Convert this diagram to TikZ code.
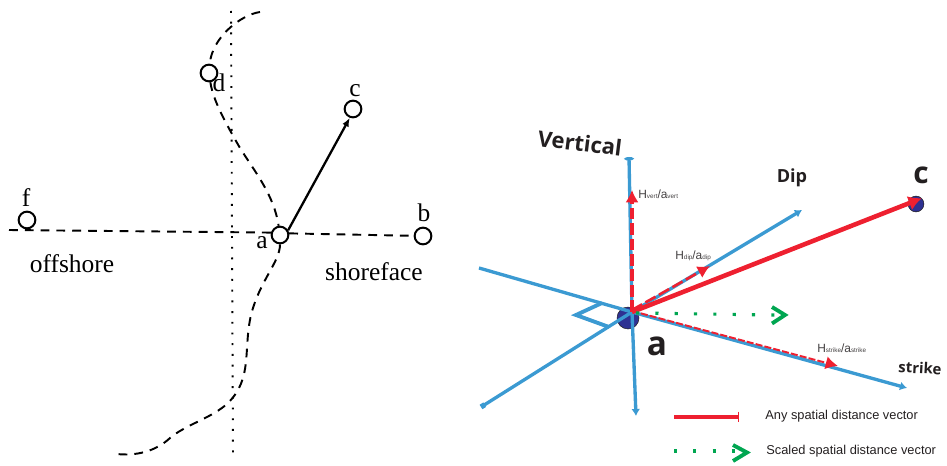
\documentclass[tikz,border=0pt]{standalone}
\usepackage{fontspec}
\setmainfont{Liberation Serif}
\newfontfamily\labelfont{Liberation Sans}
\newfontfamily\axisfont{Open Sans}
\usepackage{tikz}
\usetikzlibrary{arrows.meta,positioning,calc}
\definecolor{axisblue}{HTML}{3B9AD2}
\definecolor{vecred}{HTML}{EE2030}
\definecolor{scalegreen}{HTML}{00A651}
\definecolor{balldark}{HTML}{2E3192}
\definecolor{ink}{HTML}{231F20}
\tikzset{>=Latex,
well/.style={circle,draw=black,line width=1.15pt,fill=white,minimum size=9.5pt,inner sep=0pt},
serif/.style={font=\fontsize{14.5}{16}\selectfont,text=black,inner sep=0pt},
trace/.style={black,line width=1.1pt,dash pattern=on 5pt off 4pt},
axis/.style={draw=axisblue,line width=1.9pt,-{Latex[length=4pt,width=5pt]}},
vec/.style={draw=vecred,line width=2.6pt,-{Latex[length=7.5pt,width=8.5pt]}},
part/.style={draw=vecred,line width=1.9pt,dash pattern=on 6.6pt off 2.2pt,-{Latex[length=7pt,width=7.5pt]}},
scaled/.style={draw=scalegreen,line width=1.8pt,dash pattern=on 1.8pt off 9.2pt},
chevron/.style={draw=scalegreen,line width=2.2pt},
ball/.style={circle,fill=balldark,draw=ink,line width=.3pt,inner sep=0pt},
comp/.style={font=\labelfont\fontsize{6.8}{8}\selectfont,text=ink!85,inner sep=0pt},
axlabel/.style={font=\axisfont\bfseries\fontsize{8.5}{10}\selectfont,text=ink,inner sep=0pt},
legendtext/.style={font=\labelfont\fontsize{7.3}{9}\selectfont,text=ink,inner sep=0pt,anchor=west}}
\newcommand{\sm}[1]{{\fontsize{3.6}{4}\selectfont #1}}
\begin{document}
\begin{tikzpicture}[x=.02cm,y=-.02cm]
\useasboundingbox (0,0) rectangle (947,466);
\draw[black,line width=1.1pt,dash pattern=on 1.1pt off 5pt] (231,11) -- (233,453);
\node[well] (a) at (280,235) {};
\node[well] (b) at (423,236) {};
\node[well] (c) at (353,109) {};
\node[well] (d) at (209,73) {};
\node[well] (f) at (27,220) {};
\draw[trace] (9,230) -- (a.165);
\draw[trace] (a.10) -- (b);
\draw[trace] (260,12) .. controls (240,15) and (212,38) .. (d);
\draw[trace] (d) .. controls (213,100) and (225,122) .. (240,148) .. controls (255,172) and (274,195) .. (a);
\draw[trace] (a) .. controls (280,262) and (260,280) .. (251,315) .. controls (243,350) and (253,378) .. (228,403) .. controls (212,418) and (185,425) .. (170,438) .. controls (155,452) and (135,456) .. (117,454);
\draw[line width=1.3pt,-{Latex[length=5pt,width=4pt]}] (a.30) -- (c.250);
\node[serif] (alabel) at (262,243) {a};
\node[serif] (blabel) at (424,213) {b};
\node[serif] (clabel) at (355,91) {c};
\node[serif] (dlabel) at (219,83) {d};
\node[serif] (flabel) at (26,198) {f};
\node[serif] (off) at (72,264) {offshore};
\node[serif] (shore) at (374,272) {shoreface};
\coordinate (ao) at (632,312);
\node[ball,minimum size=12.5pt] (aball) at (628,318) {};
\node[ball,minimum size=9pt] (cball) at (916,204) {};
\coordinate (vtop) at (629,157);
\coordinate (vbot) at (636,416);
\coordinate (dtop) at (802,210);
\coordinate (dbot) at (481,407);
\coordinate (stop) at (907,388);
\coordinate (sbot) at (479,268);
\draw[axis,-{Ellipse[open,length=2pt,width=5pt]}] (ao) -- (vtop);
\draw[axis] (ao) -- (vbot);
\draw[axis] (ao) -- (dtop);
\draw[axis,-{Square[open,length=2.5pt,width=3pt]}] (ao) -- (dbot);
\draw[axis] (ao) -- (stop);
\draw[axis,-] (ao) -- (sbot);
\draw[axis,-,line width=2.2pt] (602,303) -- (576,315) -- (609,327);
\draw[part] (ao) -- (632,190);
\draw[part,line width=1.5pt] ($(ao)+(0,-2)$) -- (710,266);
\draw[part,line width=1.1pt,dash pattern=on 4pt off 1.2pt,-{Latex[length=7pt,width=7.5pt]}] ($(ao)+(0,-1)$) -- (838,366);
\draw[vec] (ao) -- (cball.north east);
\draw[scaled] (636,313) -- (775,315);
\draw[chevron] (772,307) -- (785,315) -- (772,323.5);
\node[comp,anchor=west] (hvert) at (638,194) {H\sm{vert}/a\sm{vert}};
\node[comp,anchor=west] (hdip) at (675,256) {H\sm{dip}/a\sm{dip}};
\node[comp,anchor=west] (hstrike) at (817,348) {H\sm{strike}/a\sm{strike}};
\node[axlabel,rotate=-7,font=\axisfont\bfseries\fontsize{12.5}{14}\selectfont] (vlabel) at (580,143) {Vertical};
\node[axlabel,font=\axisfont\bfseries\fontsize{10.3}{12}\selectfont] (diplabel) at (792,178) {Dip};
\node[axlabel,rotate=-3] (slabel) at (920,368) {strike};
\node[axlabel,font=\axisfont\bfseries\fontsize{19}{21}\selectfont] (abig) at (657,346) {a};
\node[axlabel,font=\axisfont\bfseries\fontsize{17}{19}\selectfont] (cbig) at (921,175) {c};
\coordinate (l1a) at (674,417);
\coordinate (l1b) at (739,417);
\draw[draw=vecred,line width=2.2pt,-{Bar[width=6pt,line width=.8pt]}] (l1a) -- (l1b);
\node[legendtext] (l1) at (765,416.5) {Any spatial distance vector};
\draw[scaled] (674,451) -- (735,451);
\draw[chevron] (733,445) -- (747,452.5) -- (733,461);
\node[legendtext] (l2) at (766,451) {Scaled spatial distance vector};
\end{tikzpicture}
\end{document}
